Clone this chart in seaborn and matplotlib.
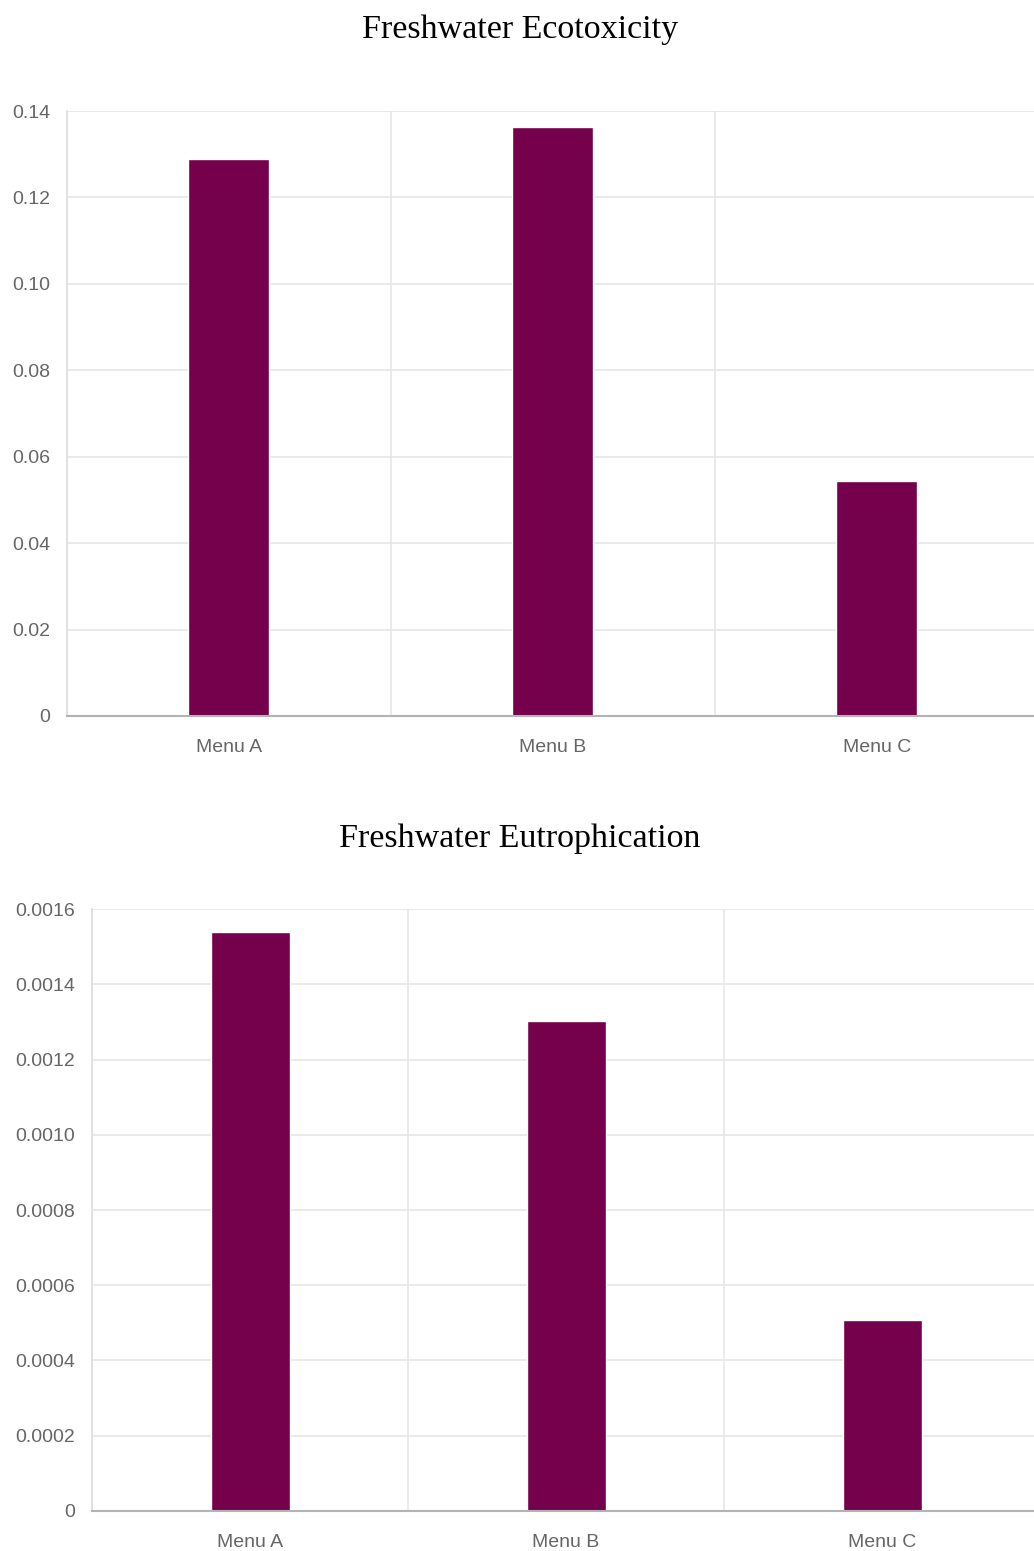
import matplotlib
matplotlib.use("Agg")
import matplotlib.pyplot as plt
import pandas as pd
import seaborn as sns
from matplotlib.ticker import FixedLocator

# 数据
menus = ["Menu A", "Menu B", "Menu C"]
ecotox = [0.1289, 0.1363, 0.0544]
eutro = [0.001539, 0.001302, 0.000508]

ecotox_ticks = [0, 0.02, 0.04, 0.06, 0.08, 0.10, 0.12, 0.14]
ecotox_labels = ["0", "0.02", "0.04", "0.06", "0.08", "0.10", "0.12", "0.14"]
eutro_ticks = [0, 0.0002, 0.0004, 0.0006, 0.0008, 0.0010, 0.0012, 0.0014, 0.0016]
eutro_labels = ["0", "0.0002", "0.0004", "0.0006", "0.0008", "0.0010", "0.0012", "0.0014", "0.0016"]

bar_color = "#75004b"
grid_color = "#e6e6e6"
text_color = "#666666"

sns.set_style("white")
plt.rcParams['font.family'] = ['Liberation Sans', 'DejaVu Sans']

fig = plt.figure(figsize=(10.34, 15.51), dpi=100)


def draw_panel(rect, values, ticks, labels, title, title_y):
    ax = fig.add_axes(rect)
    df = pd.DataFrame({"menu": menus, "value": values})
    sns.barplot(data=df, x="menu", y="value", color=bar_color, width=0.25,
                saturation=1, ax=ax)
    ax.set_xlim(-0.5, 2.5)
    ax.set_ylim(0, ticks[-1])
    ax.set_yticks(ticks)
    ax.set_yticklabels(labels)
    ax.set_xlabel("")
    ax.set_ylabel("")

    # 类别分隔线
    ax.xaxis.set_minor_locator(FixedLocator([-0.5, 0.5, 1.5, 2.5]))
    ax.grid(True, which="minor", axis="x", color=grid_color, linewidth=1.2)
    ax.grid(True, which="major", axis="y", color=grid_color, linewidth=1.2)
    ax.set_axisbelow(True)

    ax.tick_params(axis="x", which="major", length=0, pad=16.5,
                   labelsize=14, labelcolor=text_color)
    ax.tick_params(axis="x", which="minor", length=10, width=1.2, color=grid_color)
    ax.tick_params(axis="y", which="major", length=11, width=1.2, color=grid_color,
                   pad=1, labelsize=14, labelcolor=text_color)

    for s in ["top", "right"]:
        ax.spines[s].set_visible(False)
    ax.spines["left"].set_color("#dddddd")
    ax.spines["left"].set_linewidth(1.2)
    ax.spines["bottom"].set_color("#b3b3b3")
    ax.spines["bottom"].set_linewidth(1.5)

    fig.text(0.503, title_y, title, ha="center", va="center", fontsize=24.5,
             family=["Liberation Serif", "DejaVu Serif"], color="black")
    return ax


draw_panel([0.0648, 0.5384, 0.9400, 0.3900], ecotox, ecotox_ticks, ecotox_labels,
           "Freshwater Ecotoxicity", 0.9805)
draw_panel([0.0890, 0.0258, 0.9170, 0.3881], eutro, eutro_ticks, eutro_labels,
           "Freshwater Eutrophication", 0.4590)

fig.savefig("out.png", dpi=100)
plt.close(fig)
